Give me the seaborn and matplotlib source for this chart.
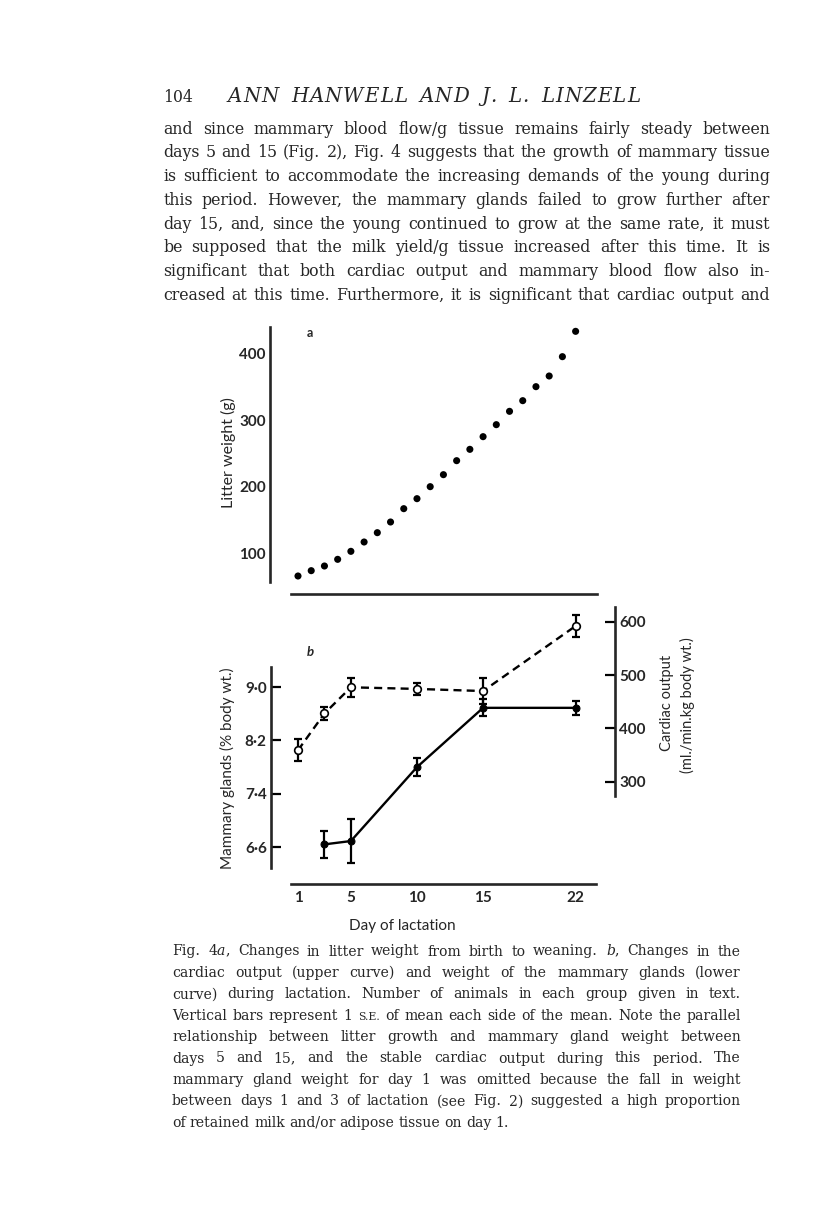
import matplotlib
matplotlib.use("Agg")
import matplotlib.pyplot as plt
import seaborn as sns

# litter weight, days 1..22
days = list(range(1, 23))
litter = [66, 74, 81, 91, 103, 117, 131, 147, 167, 182, 200, 218,
          239, 256, 275, 293, 313, 329, 350, 366, 395, 433]

# mammary glands (% body wt.), solid line
mam_days = [3, 5, 10, 15, 22]
mam_vals = [6.64, 6.69, 7.80, 8.69, 8.69]
mam_se = [0.20, 0.33, 0.13, 0.13, 0.11]

# cardiac output (ml./min.kg body wt.), dashed line
car_days = [1, 3, 5, 10, 15, 22]
car_vals = [359, 428, 477, 474, 470, 592]
car_se = [21, 13, 18, 12, 24, 21]

day_ticks = [1, 5, 10, 15, 22]
litter_ticks = [100, 200, 300, 400]
mam_ticks = [6.6, 7.4, 8.2, 9.0]
mam_labels = ["6\u00b76", "7\u00b74", "8\u00b72", "9\u00b70"]
car_ticks = [300, 400, 500, 600]

title = "ANN HANWELL AND J. L. LINZELL"
body = [
    "and since mammary blood flow/g tissue remains fairly steady between",
    "days 5 and 15 (Fig. 2), Fig. 4 suggests that the growth of mammary tissue",
    "is sufficient to accommodate the increasing demands of the young during",
    "this period. However, the mammary glands failed to grow further after",
    "day 15, and, since the young continued to grow at the same rate, it must",
    "be supposed that the milk yield/g tissue increased after this time. It is",
    "significant that both cardiac output and mammary blood flow also in-",
    "creased at this time. Furthermore, it is significant that cardiac output and",
]
caption = [
    "Fig. 4$\\mathit{a}$, Changes in litter weight from birth to weaning. $\\mathit{b}$, Changes in the",
    "cardiac output (upper curve) and weight of the mammary glands (lower",
    "curve) during lactation. Number of animals in each group given in text.",
    "Vertical bars represent 1 S.E. of mean each side of the mean. Note the parallel",
    "relationship between litter growth and mammary gland weight between",
    "days 5 and 15, and the stable cardiac output during this period. The",
    "mammary gland weight for day 1 was omitted because the fall in weight",
    "between days 1 and 3 of lactation (see Fig. 2) suggested a high proportion",
    "of retained milk and/or adipose tissue on day 1.",
]

sns.set_style("white")
plt.rcParams["mathtext.fontset"] = "custom"
plt.rcParams["mathtext.it"] = "DejaVu Serif:italic"
plt.rcParams["mathtext.rm"] = "DejaVu Serif"

W, H = 816, 1211
fig = plt.figure(figsize=(W / 100, H / 100), dpi=100)
fig.patch.set_facecolor("white")
sans = "Lato"
serif = "DejaVu Serif"
renderer = fig.canvas.get_renderer()


def rect(x0, y0, x1, y1):
    return [x0 / W, 1 - y1 / H, (x1 - x0) / W, (y1 - y0) / H]


def day_at(px):
    return 1 + (px - 298) / 13.22


def bold_ticks(labels):
    for t in labels:
        t.set_family(sans)
        t.set_weight("bold")


# ---------- panel a ----------
ax = fig.add_axes(rect(270, 327, 597, 594))
ax.patch.set_alpha(0)
sns.scatterplot(x=days, y=litter, ax=ax, color="black", s=26, edgecolor="none", legend=False)
ax.set_xlim(day_at(270), day_at(597))
ax.set_ylim(39, 439.5)
ax.spines[["top", "right"]].set_visible(False)
ax.spines["left"].set_bounds(57.5, 439.5)
ax.spines["bottom"].set_bounds(day_at(291), day_at(597))
for s in ["left", "bottom"]:
    ax.spines[s].set_linewidth(1.9)
ax.set_xticks(day_ticks)
ax.set_xticklabels([])
ax.set_yticks(litter_ticks)
ax.tick_params(direction="in", length=7, width=1.6, color="black")
ax.tick_params(axis="y", pad=3, labelsize=11)
bold_ticks(ax.get_yticklabels())
ax.set_xlabel("")
ax.set_ylabel("")
fig.text(310 / W, 1 - 333 / H, "a", family=sans, fontsize=9, weight="bold", ha="center", va="center")
fig.text(228 / W, 1 - 453 / H, "Litter weight (g)", family=sans, fontsize=11.5,
         rotation=90, ha="center", va="center")

# ---------- panel b ----------
bx = fig.add_axes(rect(271, 607, 615, 884))
bx.patch.set_alpha(0)
sns.lineplot(x=mam_days, y=mam_vals, ax=bx, color="black", linewidth=1.7,
             marker="o", markersize=5, markeredgecolor="black", zorder=3)
bx.errorbar(mam_days, mam_vals, yerr=mam_se, fmt="none", ecolor="black",
            elinewidth=1.6, capsize=3, capthick=1.6, zorder=2)
bx.set_xlim(day_at(271), day_at(615))
bx.set_ylim(6.045, 10.204)
bx.spines[["top", "right"]].set_visible(False)
bx.spines["left"].set_bounds(6.28, 9.3)
bx.spines["bottom"].set_bounds(day_at(291), day_at(596))
for s in ["left", "bottom"]:
    bx.spines[s].set_linewidth(1.9)
bx.set_xticks(day_ticks)
bx.set_xticklabels([str(d) for d in day_ticks])
bx.set_yticks(mam_ticks)
bx.set_yticklabels(mam_labels)
bx.tick_params(direction="in", length=7, width=1.6, color="black", labelsize=11)
bx.tick_params(axis="x", pad=5)
bx.tick_params(axis="y", pad=3)
bold_ticks(bx.get_xticklabels() + bx.get_yticklabels())
bx.set_xlabel("")
bx.set_ylabel("")

cx = bx.twinx()
cx.patch.set_alpha(0)
sns.lineplot(x=car_days, y=car_vals, ax=cx, color="black", linewidth=1.7,
             linestyle=(0, (3.4, 2.2)), marker="o", markersize=5.5,
             markerfacecolor="white", markeredgecolor="black", markeredgewidth=1.2, zorder=3)
cx.errorbar(car_days, car_vals, yerr=car_se, fmt="none", ecolor="black",
            elinewidth=1.6, capsize=3, capthick=1.6, zorder=2)
cx.set_ylim(108.2, 627.6)
cx.spines[["top", "left", "bottom"]].set_visible(False)
cx.spines["right"].set_bounds(273, 627)
cx.spines["right"].set_linewidth(1.9)
cx.set_yticks(car_ticks)
cx.tick_params(axis="y", direction="in", length=7, width=1.6, color="black", labelsize=11, pad=3)
bold_ticks(cx.get_yticklabels())
cx.set_ylabel("")

fig.text(310 / W, 1 - 652 / H, "b", family=sans, fontsize=9.5, style="italic", weight="bold",
         ha="center", va="center")
fig.text(227 / W, 1 - 768 / H, "Mammary glands (% body wt.)", family=sans, fontsize=11,
         rotation=90, ha="center", va="center")
fig.text(667 / W, 1 - 703 / H, "Cardiac output", family=sans, fontsize=10.5,
         rotation=90, ha="center", va="center")
fig.text(687 / W, 1 - 705 / H, "(ml./min.kg body wt.)", family=sans, fontsize=10.5,
         rotation=90, ha="center", va="center")
fig.text(402 / W, 1 - 926 / H, "Day of lactation", family=sans, fontsize=11,
         ha="center", va="center")


# ---------- page text ----------
def width(s, size, style="normal"):
    t = fig.text(0, 0, s, family=serif, fontsize=size, style=style)
    w = t.get_window_extent(renderer).width
    t.remove()
    return w


def fit_size(lines, target, s0=10.0):
    widest = max(width(l, s0) for l in lines)
    return s0 * target / widest * 0.985


def spread(line, x0, x1, y, size, fill=True):
    items = []
    for w in line.split(" "):
        s = size * 0.78 if w == "S.E." else size
        t = fig.text(0, 1 - y / H, w, family=serif, fontsize=s, va="baseline", ha="left")
        items.append((t, t.get_window_extent(renderer).width))
    total = sum(w for _, w in items)
    gap = (x1 - x0 - total) / (len(items) - 1) if fill else size * 0.3 * 100 / 72
    x = x0
    for t, w in items:
        t.set_x(x / W)
        x += w + gap


def track(text, x0, x1, y, size, style="italic"):
    # letter-spaced heading: spread the characters between x0 and x1
    chars = []
    for c in text:
        if c == " ":
            chars.append((None, size * 0.5 * 100 / 72))
        else:
            t = fig.text(0, 1 - y / H, c, family=serif, fontsize=size, style=style,
                         va="baseline", ha="left")
            chars.append((t, t.get_window_extent(renderer).width))
    total = sum(w for _, w in chars)
    gap = (x1 - x0 - total) / (len(chars) - 1)
    x = x0
    for t, w in chars:
        if t is not None:
            t.set_x(x / W)
        x += w + gap


body_size = fit_size(body, 607)
cap_size = fit_size(caption, 569)

fig.text(163 / W, 1 - 102 / H, "104", family=serif, fontsize=body_size, va="baseline", ha="left")
track(title, 228, 640, 102, body_size * 1.25)

for i, line in enumerate(body):
    spread(line, 163, 770, 133.5 + i * 23.8, body_size)

for i, line in enumerate(caption):
    spread(line, 172, 741, 955.5 + i * 21.4, cap_size, fill=(i < len(caption) - 1))

fig.savefig("out.png", dpi=100)
